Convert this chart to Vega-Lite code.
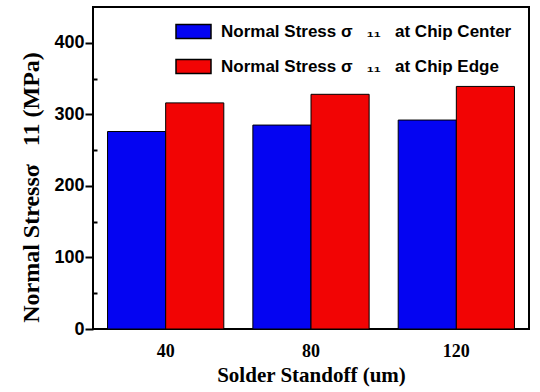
{
  "$schema": "https://vega.github.io/schema/vega-lite/v6.json",
  "width": 436,
  "height": 322,
  "autosize": {"type": "none"},
  "padding": {"left": 93, "top": 7, "right": 11, "bottom": 63},
  "background": "white",
  "config": {
    "view": {"stroke": "black", "strokeWidth": 2},
    "axis": {"grid": false, "domain": false}
  },
  "data": {
    "values": [
      {"standoff": 40, "location": "Chip Center", "stress": 276},
      {"standoff": 40, "location": "Chip Edge", "stress": 316},
      {"standoff": 80, "location": "Chip Center", "stress": 285},
      {"standoff": 80, "location": "Chip Edge", "stress": 328},
      {"standoff": 120, "location": "Chip Center", "stress": 292},
      {"standoff": 120, "location": "Chip Edge", "stress": 339}
    ]
  },
  "mark": {"type": "bar", "stroke": "black", "strokeWidth": 1},
  "encoding": {
    "x": {
      "field": "standoff",
      "type": "ordinal",
      "sort": [40, 80, 120],
      "scale": {"paddingInner": 0.2, "paddingOuter": 0.1},
      "axis": {
        "title": "Solder Standoff (um)",
        "titleFont": "Liberation Serif",
        "titleFontSize": 21,
        "titleFontWeight": "bold",
        "titleColor": "black",
        "titlePadding": 4,
        "labelAngle": 0,
        "ticks": false,
        "labelFont": "Liberation Serif",
        "labelFontSize": 18,
        "labelFontWeight": "bold",
        "labelColor": "black",
        "labelPadding": 13
      }
    },
    "xOffset": {"field": "location", "sort": ["Chip Center", "Chip Edge"]},
    "y": {
      "field": "stress",
      "type": "quantitative",
      "scale": {"domain": [0, 450], "nice": false},
      "axis": {
        "values": [0, 50, 100, 150, 200, 250, 300, 350, 400],
        "labelExpr": "datum.value % 100 === 0 ? datum.label : ''",
        "tickSize": {"condition": {"test": "datum.value % 100 === 0", "value": 8}, "value": -4},
        "tickColor": "black",
        "tickWidth": 2,
        "labelFont": "Liberation Sans",
        "labelFontSize": 18,
        "labelFontWeight": "bold",
        "labelColor": "black",
        "labelPadding": 1,
        "title": "Normal Stressσ\u00a0\u00a0 11 (MPa)",
        "titleFont": "Liberation Serif",
        "titleFontSize": 24,
        "titleFontWeight": "bold",
        "titleColor": "black",
        "titlePadding": 10,
        "titleY": 180
      }
    },
    "color": {
      "field": "location",
      "type": "nominal",
      "scale": {"domain": ["Chip Center", "Chip Edge"], "range": ["#0404f2", "#f20404"]},
      "legend": {
        "title": null,
        "orient": "none",
        "legendX": 92,
        "legendY": 16,
        "padding": 0,
        "symbolType": "M-2.5,-1H2.5V1H-2.5Z",
        "symbolSize": 196,
        "symbolStrokeColor": "black",
        "symbolStrokeWidth": 1.5,
        "symbolOpacity": 1,
        "labelExpr": "'Normal Stress σ\u00a0\u00a0 ₁₁ \u00a0\u00a0at ' + datum.label",
        "labelFont": "Liberation Sans",
        "labelFontSize": 17,
        "labelFontWeight": "bold",
        "labelColor": "black",
        "labelOffset": 19,
        "labelLimit": 400,
        "rowPadding": 14
      }
    }
  }
}
